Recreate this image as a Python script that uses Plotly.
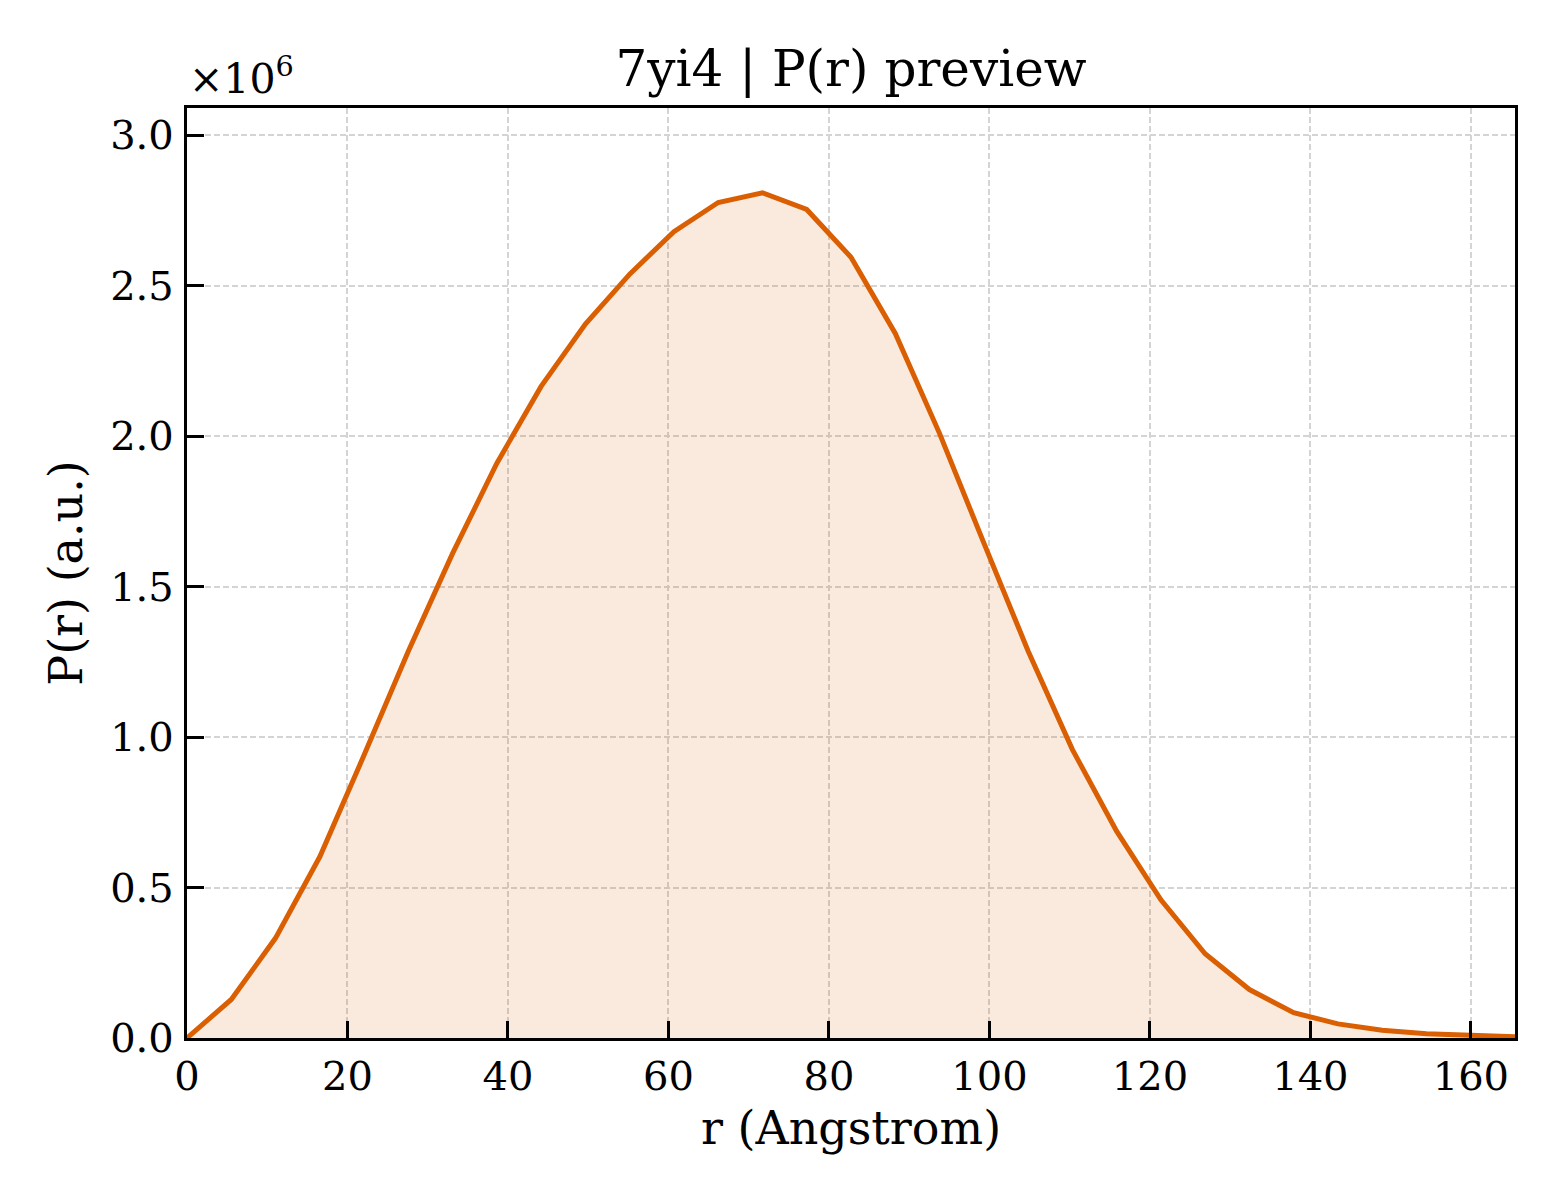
import plotly.graph_objects as go

# distances r (Angstrom) and P(r) in units of 1e6 (a.u.)
r_angstrom = [0.0, 5.52, 11.03, 16.55, 22.07, 27.58, 33.1, 38.62, 44.13, 49.65,
              55.17, 60.68, 66.2, 71.72, 77.23, 82.75, 88.27, 93.78, 99.3, 104.82,
              110.33, 115.85, 121.37, 126.88, 132.4, 137.92, 143.43, 148.95, 154.47,
              159.98, 165.5]
p_r_1e6 = [0.0, 0.128, 0.332, 0.602, 0.94, 1.285, 1.61, 1.91, 2.165, 2.372,
           2.538, 2.679, 2.776, 2.808, 2.753, 2.594, 2.341, 2.009, 1.645, 1.286,
           0.959, 0.687, 0.459, 0.28, 0.161, 0.084, 0.047, 0.026, 0.014,
           0.009, 0.004]

x_ticks = [0, 20, 40, 60, 80, 100, 120, 140, 160]
y_ticks = [0.0, 0.5, 1.0, 1.5, 2.0, 2.5, 3.0]
y_tick_labels = ['0.0', '0.5', '1.0', '1.5', '2.0', '2.5', '3.0']

serif = 'DejaVu Serif'
line_color = '#d95f02'

fig = go.Figure()
fig.add_trace(go.Scatter(
    x = r_angstrom,
    y = p_r_1e6,
    mode = 'lines',
    line = dict(color = line_color, width = 5),
    fill = 'tozeroy',
    fillcolor = 'rgba(217, 95, 2, 0.13)',
    showlegend = False
))

axis_common = dict(
    showline = True,
    linecolor = 'black',
    linewidth = 3.4,
    mirror = True,
    ticks = 'inside',
    ticklen = 17,
    tickwidth = 2.5,
    tickcolor = 'black',
    showgrid = True,
    gridcolor = '#d4d4d4',
    gridwidth = 1.6,
    griddash = '6px,3px',
    zeroline = False,
    tickfont = dict(family = serif, size = 40, color = 'black'),
)

fig.update_xaxes(
    range = [0, 165.5],
    tickvals = x_ticks,
    ticklabelstandoff = 1,
    title = dict(text = 'r (Angstrom)', font = dict(family = serif, size = 46, color = 'black'), standoff = 14),
    **axis_common
)
fig.update_yaxes(
    range = [0, 3.09],
    tickvals = y_ticks,
    ticktext = y_tick_labels,
    ticklabelstandoff = 2,
    title = dict(text = 'P(r) (a.u.)', font = dict(family = serif, size = 46, color = 'black'), standoff = 14),
    **axis_common
)

fig.add_annotation(
    text = '×10<sup>6</sup>',
    xref = 'paper', yref = 'paper',
    x = 0, y = 1.0,
    xanchor = 'left', yanchor = 'bottom',
    yshift = 3,
    showarrow = False,
    font = dict(family = serif, size = 41, color = 'black')
)

# the page puts the figure 8px in from the corner, so margins are shifted by that
fig.update_layout(
    width = 1560,
    height = 1200,
    margin = dict(l = 179, r = 53, t = 100, b = 170, autoexpand = False),
    paper_bgcolor = 'white',
    plot_bgcolor = 'white',
    title = dict(
        text = '7yi4 | P(r) preview',
        font = dict(family = serif, size = 50, color = 'black'),
        xref = 'paper', x = 0.5, xanchor = 'center',
        y = 0.95, yanchor = 'middle'
    ),
    font = dict(family = serif, color = 'black')
)

fig.write_html("out.html")
